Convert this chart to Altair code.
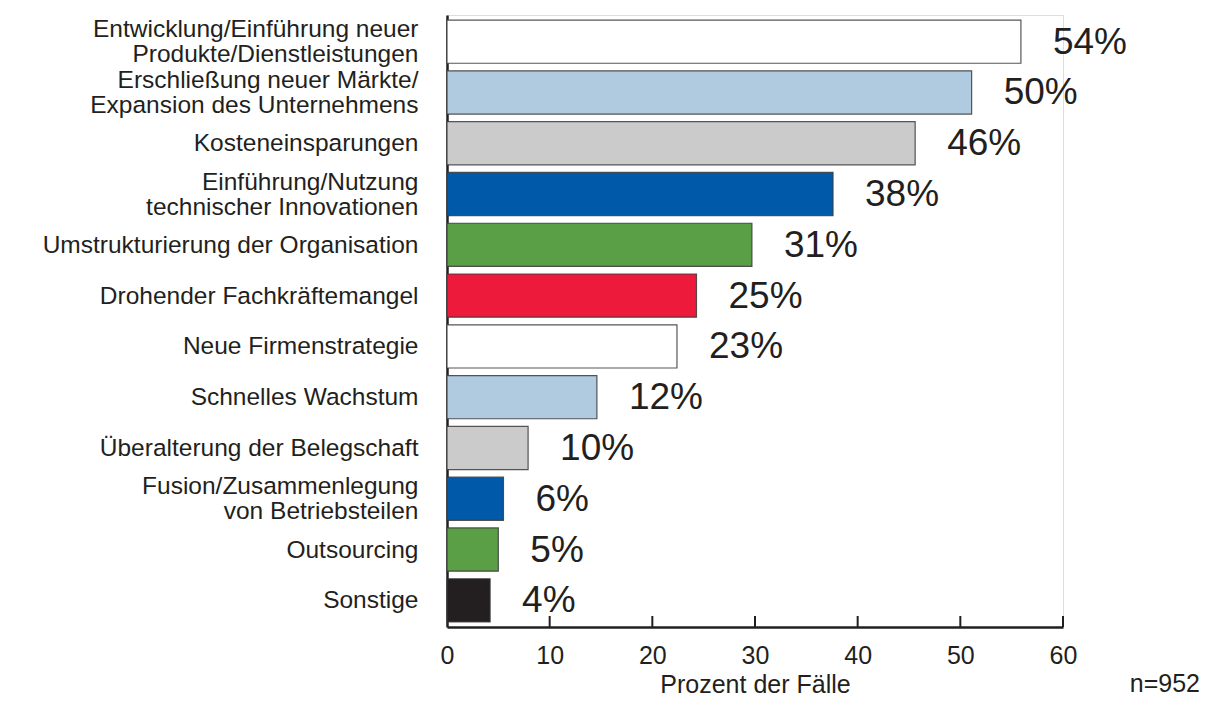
import altair as alt
import pandas as pd

categories = [
    "Entwicklung/Einführung neuer|Produkte/Dienstleistungen",
    "Erschließung neuer Märkte/|Expansion des Unternehmens",
    "Kosteneinsparungen",
    "Einführung/Nutzung|technischer Innovationen",
    "Umstrukturierung der Organisation",
    "Drohender Fachkräftemangel",
    "Neue Firmenstrategie",
    "Schnelles Wachstum",
    "Überalterung der Belegschaft",
    "Fusion/Zusammenlegung|von Betriebsteilen",
    "Outsourcing",
    "Sonstige",
]
bar_values = [55.9, 51.1, 45.6, 37.6, 29.7, 24.3, 22.4, 14.6, 7.9, 5.5, 5.0, 4.2]
value_labels = ["54%", "50%", "46%", "38%", "31%", "25%", "23%", "12%", "10%", "6%", "5%", "4%"]
bar_colors = ["#ffffff", "#b0cbe0", "#cbcbcb", "#005aa9", "#5a9e45", "#ee1a3c",
              "#ffffff", "#b0cbe0", "#cbcbcb", "#005aa9", "#5a9e45", "#231f20"]
x_ticks = [0, 10, 20, 30, 40, 50, 60]
sample_note = "n=952"

W, H = 616, 612
FONT = "Liberation Sans"
INK = "#231f20"

df = pd.DataFrame({"cat": categories, "value": bar_values, "label": value_labels, "color": bar_colors})
ticks_df = pd.DataFrame({"t": x_ticks[1:]})

y_enc = alt.Y("cat:N", sort=categories, title=None,
              scale=alt.Scale(paddingInner=0.15, paddingOuter=0.1),
              axis=alt.Axis(labelExpr="split(datum.value, '|')", labelFont=FONT, labelFontSize=24.5,
                            labelLineHeight=25, labelColor=INK, labelPadding=29, ticks=False,
                            labelOffset={"condition": {"test": "indexof(datum.value, '|') >= 0", "value": -11.5},
                                         "value": 1},
                            domainColor=INK, domainWidth=2.5, labelLimit=0))
x_scale = alt.Scale(domain=[0, 60], nice=False)

bars = alt.Chart(df).mark_bar(stroke="#3a3a3a", strokeWidth=1.2, strokeOpacity=0.85).encode(
    x=alt.X("value:Q", scale=x_scale, title="Prozent der Fälle",
            axis=alt.Axis(values=x_ticks, ticks=False, labelFont=FONT, labelFontSize=25,
                          labelColor=INK, labelPadding=16, labelFlush=False, domainColor=INK,
                          domainWidth=2.5, grid=False, titleFont=FONT, titleFontSize=25,
                          titleFontWeight="normal", titleColor=INK, titleY=65,
                          titleBaseline="alphabetic")),
    y=y_enc,
    fill=alt.Fill("color:N", scale=None),
)

texts = alt.Chart(df).mark_text(align="left", baseline="middle", dx=32, dy=1, font=FONT,
                                fontSize=37, color=INK).encode(
    x=alt.X("value:Q", scale=x_scale),
    y=alt.Y("cat:N", sort=categories),
    text="label:N",
)

tick_marks = alt.Chart(ticks_df).mark_rule(color=INK, strokeWidth=2).encode(
    x=alt.X("t:Q", scale=x_scale),
    y=alt.value(H - 11),
    y2=alt.value(H),
)

note = alt.Chart(pd.DataFrame({"n": [sample_note]})).mark_text(
    align="right", baseline="alphabetic", font=FONT, fontSize=25, color=INK).encode(
    x=alt.value(753), y=alt.value(677), text="n:N")

chart = alt.layer(bars, texts, tick_marks, note).properties(
    width=W, height=H,
    autosize=alt.AutoSizeParams(type="none"),
    padding={"left": 439, "top": 7, "right": 141, "bottom": 71},
).configure_view(stroke=None).configure(background="white")

chart.save("out.html", embed_options={"renderer": "svg", "actions": False})
